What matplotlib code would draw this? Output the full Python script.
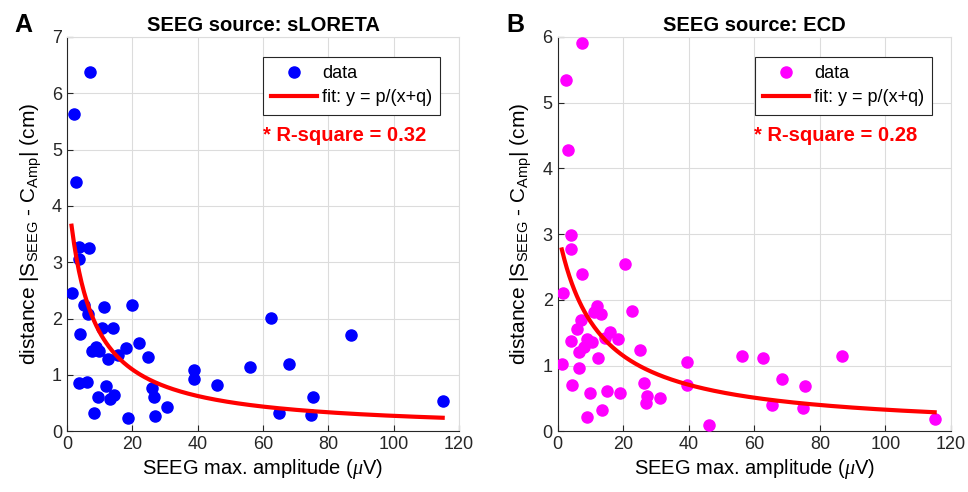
import numpy as np
import matplotlib
matplotlib.use("Agg")
import matplotlib.pyplot as plt

plt.rcParams['font.family'] = ['Liberation Sans', 'DejaVu Sans']
plt.rcParams['mathtext.fontset'] = 'custom'
plt.rcParams['mathtext.rm'] = 'Liberation Sans'
plt.rcParams['mathtext.it'] = 'Liberation Serif:italic'

# panel A: sLORETA
x_slor = [7.0, 2.1, 2.75, 3.7, 6.8, 3.8, 1.4, 5.2, 6.5, 11.4, 20.0, 4.0, 10.8, 14.0,
          7.7, 8.8, 9.9, 12.7, 15.7, 18.1, 22.1, 24.7, 3.7, 6.2, 11.9, 9.6, 13.1, 14.4,
          8.4, 18.6, 25.9, 26.5, 27.0, 30.7, 39.0, 39.0, 45.8, 56.0, 62.4, 86.8, 68.0,
          75.3, 64.9, 74.8, 115.1]
y_slor = [6.37, 5.63, 4.42, 3.28, 3.25, 3.06, 2.45, 2.24, 2.09, 2.20, 2.25, 1.73, 1.83, 1.83,
          1.43, 1.49, 1.43, 1.28, 1.35, 1.47, 1.56, 1.32, 0.85, 0.87, 0.80, 0.60, 0.57, 0.64,
          0.32, 0.24, 0.76, 0.61, 0.27, 0.43, 1.08, 0.92, 0.82, 1.15, 2.01, 1.71, 1.19,
          0.61, 0.32, 0.29, 0.54]
fit_slor = (29.2, 6.6)   # p, q
r2_slor = 0.32

# panel B: ECD
x_ecd = [7.4, 2.6, 3.3, 4.0, 4.2, 20.5, 7.3, 1.8, 22.6, 12.0, 11.2, 13.3, 7.1, 5.9, 16.0,
         14.5, 18.5, 4.2, 9.1, 10.4, 8.2, 6.6, 25.2, 12.4, 1.4, 6.6, 39.4, 56.3, 4.3, 26.3,
         39.4, 9.9, 15.0, 19.1, 27.4, 26.9, 31.2, 13.6, 8.9, 46.3, 62.7, 86.8, 68.3, 75.5,
         65.3, 74.9, 115.1]
y_ecd = [5.91, 5.34, 4.28, 2.99, 2.78, 2.54, 2.39, 2.10, 1.83, 1.90, 1.81, 1.78, 1.69, 1.55, 1.51,
         1.42, 1.40, 1.37, 1.40, 1.36, 1.29, 1.21, 1.23, 1.12, 1.03, 0.97, 1.05, 1.14, 0.70, 0.74,
         0.71, 0.58, 0.62, 0.58, 0.54, 0.43, 0.50, 0.33, 0.21, 0.10, 1.11, 1.15, 0.80, 0.69,
         0.40, 0.35, 0.19]
fit_ecd = (36.8, 12.0)
r2_ecd = 0.28

x_fit_start = [1.4, 1.3]
x_fit_end = 115.0


def draw_panel(ax, xs, ys, color, fit, x0, r2, ymax, title):
    ax.grid(True, color='#dcdcdc', lw=0.8)
    ax.set_axisbelow(True)
    ax.plot(xs, ys, 'o', color=color, ms=8, mec=color, label='data', zorder=3)
    p, q = fit
    xf = np.linspace(x0, x_fit_end, 300)
    ax.plot(xf, p / (xf + q), color='red', lw=3, label='fit: y = p/(x+q)', zorder=4)
    ax.set_xlim(0, 120)
    ax.set_ylim(0, ymax)
    ax.set_xticks(range(0, 121, 20))
    ax.set_yticks(range(0, ymax + 1))
    ax.tick_params(direction='in', labelsize=13, length=4, colors='#262626')
    for s in ['top', 'right']:
        ax.spines[s].set_color('#dcdcdc')
        ax.spines[s].set_linewidth(0.8)
    for s in ['left', 'bottom']:
        ax.spines[s].set_color('#262626')
    ax.set_title(title, fontsize=14.5, fontweight='bold', pad=4)
    ax.set_xlabel(r'SEEG max. amplitude ($\mu$V)', fontsize=14.5, labelpad=3)
    ax.set_ylabel(r'distance |S$_{\mathrm{SEEG}}$ - C$_{\mathrm{Amp}}$| (cm)', fontsize=15,
                  labelpad=6)
    leg = ax.legend(loc='upper right', bbox_to_anchor=(0.952, 0.949), borderaxespad=0,
                    fontsize=13, fancybox=False, framealpha=1, edgecolor='#262626',
                    handlelength=2.5, handletextpad=0.3, borderpad=0.45, labelspacing=0.4)
    leg.get_frame().set_linewidth(0.8)
    ax.text(0.5, 0.75, '* R-square = %.2f' % r2, transform=ax.transAxes, color='red',
            fontsize=14.5, fontweight='bold', ha='left', va='center')


fig = plt.figure(figsize=(9.68, 4.92), dpi=100)
axA = fig.add_axes([0.0692, 0.1234, 0.405, 0.8014])
axB = fig.add_axes([0.576, 0.1234, 0.4065, 0.8014])

draw_panel(axA, x_slor, y_slor, 'blue', fit_slor, x_fit_start[0], r2_slor, 7,
           'SEEG source: sLORETA')
draw_panel(axB, x_ecd, y_ecd, 'magenta', fit_ecd, x_fit_start[1], r2_ecd, 6,
           'SEEG source: ECD')

fig.text(14 / 968, 1 - 32 / 492, 'A', fontsize=18, fontweight='bold', va='baseline')
fig.text(506 / 968, 1 - 32 / 492, 'B', fontsize=18, fontweight='bold', va='baseline')

fig.savefig('out.png', dpi=100)
